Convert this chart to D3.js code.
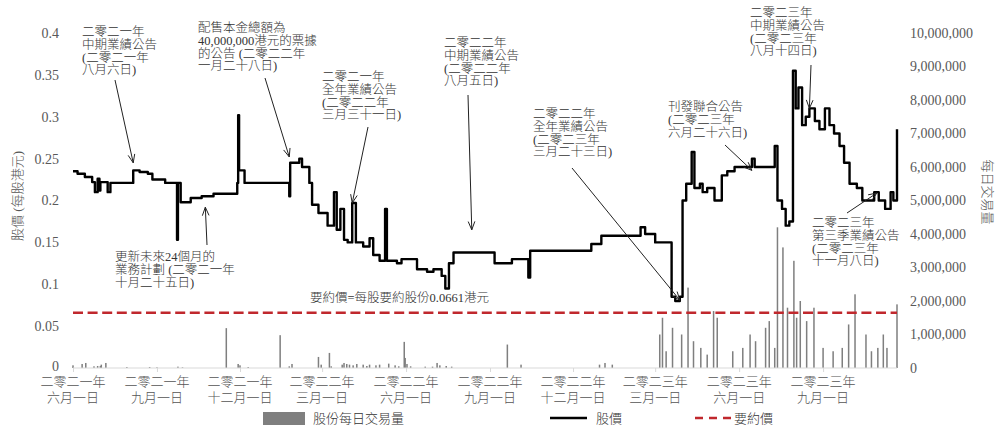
<!DOCTYPE html>
<html><head><meta charset="utf-8">
<script src="https://cdn.jsdelivr.net/npm/d3@7"></script>
<style>body{margin:0;background:#fff}svg{display:block}</style>
</head><body><svg id="c" width="997" height="425"></svg>
<script>
// ---------- DATA ----------
const priceDates = ["2021-06-01","2021-06-06","2021-06-14","2021-06-22","2021-06-25","2021-06-28","2021-06-30","2021-07-01","2021-07-09","2021-07-12","2021-08-06","2021-08-13","2021-08-22","2021-08-27","2021-09-10","2021-09-23","2021-09-24","2021-09-27","2021-10-08","2021-10-20","2021-11-02","2021-11-28","2021-11-29","2021-11-30","2021-12-06","2022-01-24","2022-01-25","2022-01-26","2022-02-04","2022-02-07","2022-02-15","2022-02-18","2022-02-25","2022-03-07","2022-03-14","2022-03-17","2022-03-21","2022-03-25","2022-03-29","2022-04-03","2022-04-07","2022-04-15","2022-04-22","2022-04-26","2022-05-03","2022-05-09","2022-05-11","2022-05-22","2022-05-27","2022-06-13","2022-06-24","2022-07-01","2022-07-10","2022-07-14","2022-07-18","2022-07-23","2022-09-06","2022-09-25","2022-10-13","2022-10-15","2022-12-21","2023-01-01","2023-02-13","2023-02-18","2023-03-01","2023-03-08","2023-03-19","2023-03-23","2023-03-28","2023-03-31","2023-04-04","2023-04-10","2023-04-13","2023-04-19","2023-04-22","2023-04-27","2023-05-05","2023-05-13","2023-05-19","2023-05-27","2023-06-15","2023-06-18","2023-06-24","2023-07-10","2023-07-13","2023-07-18","2023-07-22","2023-07-26","2023-07-30","2023-08-02","2023-08-05","2023-08-09","2023-08-13","2023-08-17","2023-08-23","2023-08-28","2023-09-03","2023-09-08","2023-09-13","2023-09-19","2023-09-24","2023-09-30","2023-10-08","2023-10-14","2023-10-22","2023-10-27","2023-11-01","2023-11-08","2023-11-14","2023-11-17","2023-11-21"];
const priceValues = [0.235,0.232,0.228,0.222,0.21,0.226,0.212,0.222,0.21,0.221,0.236,0.234,0.232,0.225,0.221,0.153,0.221,0.198,0.203,0.205,0.208,0.221,0.302,0.236,0.221,0.205,0.245,0.245,0.25,0.24,0.221,0.195,0.185,0.17,0.21,0.165,0.19,0.153,0.15,0.197,0.15,0.145,0.155,0.135,0.128,0.19,0.128,0.125,0.13,0.118,0.115,0.118,0.11,0.095,0.125,0.138,0.125,0.13,0.108,0.14,0.148,0.158,0.168,0.16,0.15,0.15,0.085,0.08,0.085,0.2,0.22,0.258,0.215,0.22,0.21,0.215,0.2,0.23,0.235,0.24,0.25,0.24,0.24,0.265,0.2,0.19,0.17,0.175,0.355,0.31,0.335,0.29,0.30,0.31,0.295,0.285,0.31,0.29,0.28,0.265,0.245,0.22,0.215,0.2,0.2,0.21,0.2,0.19,0.21,0.2,0.285];

const volDates = ["2021-06-01","2021-06-11","2021-06-15","2021-06-24","2021-06-28","2021-07-01","2021-07-02","2021-07-07","2021-07-30","2021-08-24","2021-09-01","2021-09-24","2021-09-29","2021-11-16","2021-11-29","2021-12-01","2021-12-10","2022-01-14","2022-01-24","2022-01-27","2022-02-25","2022-02-28","2022-03-09","2022-03-11","2022-03-23","2022-03-25","2022-03-28","2022-03-31","2022-04-04","2022-04-08","2022-04-15","2022-04-19","2022-04-22","2022-04-29","2022-05-03","2022-05-13","2022-05-20","2022-05-24","2022-05-30","2022-05-31","2022-06-02","2022-06-06","2022-06-22","2022-06-30","2022-07-05","2022-07-08","2022-07-15","2022-07-21","2022-09-20","2022-10-05","2022-12-30","2023-01-05","2023-01-13","2023-03-06","2023-03-09","2023-03-13","2023-03-20","2023-03-30","2023-04-06","2023-04-12","2023-04-20","2023-04-27","2023-05-04","2023-05-08","2023-05-25","2023-06-05","2023-06-13","2023-06-19","2023-06-30","2023-07-04","2023-07-10","2023-07-13","2023-07-19","2023-07-24","2023-07-31","2023-08-03","2023-08-07","2023-08-14","2023-08-22","2023-09-01","2023-09-12","2023-09-22","2023-09-29","2023-10-06","2023-10-18","2023-10-24","2023-10-31","2023-11-06","2023-11-10","2023-11-21"];
const volValues = [0.08e6,0.12e6,0.15e6,0.05e6,0.06e6,0.06e6,0.1e6,0.15e6,0.03e6,0.03e6,0.02e6,0.04e6,0.02e6,1.19e6,0.12e6,0.08e6,0.03e6,0.98e6,0.05e6,0.12e6,0.33e6,0.1e6,0.45e6,0.05e6,0.1e6,0.15e6,0.12e6,0.1e6,0.08e6,0.12e6,0.1e6,0.06e6,0.1e6,0.08e6,0.1e6,0.13e6,0.08e6,0.05e6,0.78e6,0.3e6,0.12e6,0.05e6,0.04e6,0.04e6,0.15e6,0.08e6,0.06e6,0.04e6,0.7e6,0.1e6,0.1e6,0.15e6,0.1e6,1.0e6,1.5e6,0.5e6,1.2e6,1.0e6,2.4e6,0.8e6,0.6e6,0.4e6,1.7e6,1.5e6,0.5e6,0.6e6,1.0e6,0.8e6,1.2e6,1.4e6,0.6e6,4.2e6,3.6e6,1.8e6,3.2e6,1.5e6,2.0e6,1.4e6,1.8e6,0.6e6,0.5e6,0.6e6,1.3e6,2.2e6,1.0e6,0.5e6,0.6e6,1.0e6,0.6e6,1.9e6];

const offerPrice = 0.0661;
const priceTicks = [0,0.05,0.1,0.15,0.2,0.25,0.3,0.35,0.4];
const volumeTicks = [0,1e6,2e6,3e6,4e6,5e6,6e6,7e6,8e6,9e6,10e6];
const xTickDates = ["2021-06-01","2021-09-01","2021-12-01","2022-03-01","2022-06-01","2022-09-01","2022-12-01","2023-03-01","2023-06-01","2023-09-01"];
const xTickLabels = [["二零二一年","六月一日"],["二零二一年","九月一日"],["二零二一年","十二月一日"],["二零二二年","三月一日"],["二零二二年","六月一日"],["二零二二年","九月一日"],["二零二二年","十二月一日"],["二零二三年","三月一日"],["二零二三年","六月一日"],["二零二三年","九月一日"]];

const annoLines = [
 ["二零二一年","中期業績公告","(二零二一年","八月六日)"],
 ["配售本金總額為","40,000,000港元的票據","的公告 (二零二二年","一月二十八日)"],
 ["二零二一年","全年業績公告","(二零二二年","三月三十一日)"],
 ["二零二二年","中期業績公告","(二零二二年","八月五日)"],
 ["二零二二年","全年業績公告","(二零二三年","三月二十三日)"],
 ["刊發聯合公告","(二零二三年","六月二十六日)"],
 ["二零二三年","中期業績公告","(二零二三年","八月十四日)"],
 ["二零二三年","第三季業績公告","(二零二三年","十一月八日)"],
 ["更新未來24個月的","業務計劃 (二零二一年","十月二十五日)"]
];
const annoTipDates = ["2021-08-06","2022-01-24","2022-04-03","2022-08-12","2023-03-28","2023-06-15","2023-08-17","2023-10-30","2021-10-24"];
const annoTipPrices = [0.245,0.252,0.197,0.165,0.081,0.236,0.31,0.209,0.192];
const offerLabel = "要約價=每股要約股份0.0661港元";
const legendLabels = ["股份每日交易量","股價","要約價"];
const leftTitle = "股價 (每股港元)";
const rightTitle = "每日交易量";

// ---------- LAYOUT (pixels) ----------
const annoLayout = [ // text left x, first line y, arrow tail x, y
 [82,32,115,80],[198,28,265,78],[322,77,368,127],[444,43,468,95],[533,114,572,168],
 [668,107,725,145],[750,13,811,65],[812,223,847,213],[115,257,207,245]
];

const parse = d3.timeParse("%Y-%m-%d");
const svg = d3.select("#c");
const X0 = 73, X1 = 897, Y0 = 368, Y1 = 33;
const x = d3.scaleTime().domain([parse("2021-06-01"), parse("2023-11-21")]).range([X0, X1]);
const yP = d3.scaleLinear().domain([0,0.4]).range([Y0,Y1]);
const yV = d3.scaleLinear().domain([0,10e6]).range([Y0,Y1]);
const NUM = "'Liberation Serif','Noto Sans CJK TC',serif";
const CJK = "'Liberation Serif','Noto Sans CJK TC',sans-serif";

// volume bars
const vol = volDates.map((d,i)=>({d:parse(d),v:volValues[i]}));
svg.append("g").selectAll("rect").data(vol).join("rect")
  .attr("x",d=>x(d.d)-0.75).attr("width",1.5)
  .attr("y",d=>yV(d.v)).attr("height",d=>Y0-yV(d.v))
  .attr("fill","#7f7f7f");

// x axis line and ticks
const xAxis = d3.axisBottom(x).tickValues(xTickDates.map(parse)).tickSize(4).tickFormat("");
const gx = svg.append("g").attr("transform",`translate(0,${Y0})`).call(xAxis);
gx.select(".domain").attr("stroke","#d9d9d9").attr("d",`M${X0},0H${X1}`);
gx.selectAll(".tick line").attr("stroke","#d9d9d9");
xTickDates.forEach((d,i)=>{
  const t = svg.append("text").attr("x",x(parse(d))).attr("text-anchor","middle")
    .attr("font-family",CJK).attr("font-size",13).attr("fill","#555").attr("font-weight",300);
  xTickLabels[i].forEach((s,j)=>t.append("tspan").attr("x",x(parse(d))).attr("y",386+j*16).text(s));
});

// left axis labels
const gl = svg.append("g").attr("transform",`translate(${X0},0)`)
  .call(d3.axisLeft(yP).tickValues(priceTicks).tickSize(0).tickPadding(14).tickFormat(d=>d3.format("")(d)));
gl.select(".domain").remove();
gl.selectAll("text").attr("font-family",NUM).attr("font-size",14).attr("fill","#595959");
gl.selectAll(".tick").filter(d=>d===0).select("text").attr("dy","0.2em");

// right axis labels
const gr = svg.append("g").attr("transform",`translate(${X1},0)`)
  .call(d3.axisRight(yV).tickValues(volumeTicks).tickSize(0).tickPadding(13).tickFormat(d3.format(",")));
gr.select(".domain").remove();
gr.selectAll("text").attr("font-family",NUM).attr("font-size",14).attr("fill","#595959");

// titles
svg.append("text").attr("transform",`translate(22,196) rotate(-90)`).attr("text-anchor","middle")
  .attr("font-family",CJK).attr("font-size",13).attr("fill","#555").attr("font-weight",300).text(leftTitle);
svg.append("text").attr("transform",`translate(983,192) rotate(90)`).attr("text-anchor","middle")
  .attr("font-family",CJK).attr("font-size",13).attr("fill","#555").attr("font-weight",300).text(rightTitle);

// offer price line
svg.append("line").attr("x1",X0).attr("x2",X1).attr("y1",yP(offerPrice)).attr("y2",yP(offerPrice))
  .attr("stroke","#c0282d").attr("stroke-width",2.5).attr("stroke-dasharray","10,4.6");
svg.append("text").attr("x",310).attr("y",yP(offerPrice)-11).attr("font-family",CJK).attr("font-size",12.5)
  .attr("fill","#333").attr("font-weight",300).text(offerLabel);

// price line
const price = priceDates.map((d,i)=>({d:parse(d),v:priceValues[i]}));
svg.append("path").datum(price)
  .attr("d",d3.line().x(d=>x(d.d)).y(d=>yP(d.v)).curve(d3.curveStepAfter))
  .attr("fill","none").attr("stroke","#000").attr("stroke-width",2.4).attr("stroke-linejoin","round");

// annotations
annoLines.forEach((lines,i)=>{
  const [tx,ty,ax,ay] = annoLayout[i];
  const t = svg.append("text").attr("font-family",CJK).attr("font-size",12.5).attr("fill","#333").attr("font-weight",300);
  lines.forEach((s,j)=>t.append("tspan").attr("x",tx).attr("y",ty+4+j*12.8).text(s));
  const bx = x(parse(annoTipDates[i])), by = yP(annoTipPrices[i]);
  svg.append("line").attr("x1",ax).attr("y1",ay).attr("x2",bx).attr("y2",by).attr("stroke","#222").attr("stroke-width",1);
  const ang = Math.atan2(by-ay,bx-ax), L=9, w=0.38;
  svg.append("path").attr("d",`M${bx-L*Math.cos(ang-w)},${by-L*Math.sin(ang-w)}L${bx},${by}L${bx-L*Math.cos(ang+w)},${by-L*Math.sin(ang+w)}`)
    .attr("fill","none").attr("stroke","#222").attr("stroke-width",1);
});

// legend
svg.append("rect").attr("x",263).attr("y",412).attr("width",42).attr("height",13).attr("fill","#7f7f7f");
svg.append("text").attr("x",313).attr("y",423).attr("font-family",CJK).attr("font-size",13).attr("fill","#333").attr("font-weight",300).text(legendLabels[0]);
svg.append("line").attr("x1",550).attr("x2",587).attr("y1",418).attr("y2",418).attr("stroke","#000").attr("stroke-width",2.4);
svg.append("text").attr("x",596).attr("y",423).attr("font-family",CJK).attr("font-size",13).attr("fill","#333").attr("font-weight",300).text(legendLabels[1]);
svg.append("line").attr("x1",695).attr("x2",732).attr("y1",418).attr("y2",418).attr("stroke","#c0282d").attr("stroke-width",2.5).attr("stroke-dasharray","8,6");
svg.append("text").attr("x",734).attr("y",423).attr("font-family",CJK).attr("font-size",13).attr("fill","#333").attr("font-weight",300).text(legendLabels[2]);
</script></body></html>
